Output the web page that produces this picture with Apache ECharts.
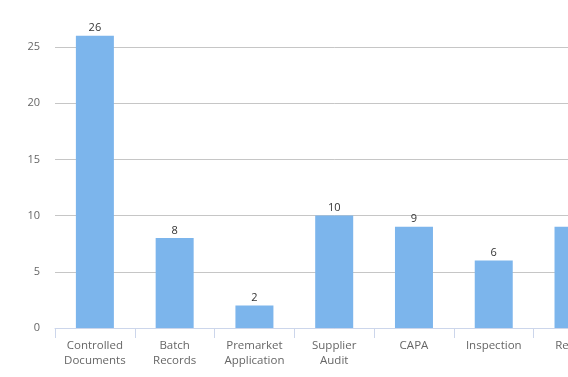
<!DOCTYPE html>
<html><head><meta charset="utf-8">
<script src="https://cdn.jsdelivr.net/npm/echarts@6/dist/echarts.min.js"></script>
<style>html,body{margin:0;padding:0;background:#fff;overflow:hidden;width:568px;height:377px;position:relative}#c{position:absolute;left:0;top:-20px;width:700px;height:397px}</style>
</head><body><div id="c"></div>
<script>
var categories = ["Controlled\nDocuments", "Batch\nRecords", "Premarket\nApplication", "Supplier\nAudit", "CAPA", "Inspection", "Recalls"];
var values = [26, 8, 2, 10, 9, 6, 9];
var yTicks = [0, 5, 10, 15, 20, 25, 30];

var chart = echarts.init(document.getElementById('c'));
chart.setOption({
  animation: false,
  grid: { left: 55, right: 86.6, top: 10.8, bottom: 49, containLabel: false },
  xAxis: {
    type: 'category', data: categories,
    axisLine: { lineStyle: { color: '#ccd6eb' } },
    axisTick: { show: true, length: 10, lineStyle: { color: '#ccd6eb' } },
    axisLabel: { color: '#666666', fontFamily: 'Open Sans', fontSize: 11.5, margin: 10, lineHeight: 15, interval: 0 }
  },
  yAxis: {
    type: 'value', min: yTicks[0], max: yTicks[yTicks.length - 1], interval: 5,
    axisLine: { show: false }, axisTick: { show: false },
    splitLine: { lineStyle: { color: '#c6c6c6' } },
    axisLabel: { color: '#666666', fontFamily: 'Open Sans', fontSize: 11, margin: 15 }
  },
  series: [{
    type: 'bar', data: values, barWidth: 38,
    itemStyle: { color: '#7cb5ec' },
    label: { show: true, position: 'top', distance: 2, color: '#333333', fontFamily: 'Open Sans', fontSize: 11 }
  }]
});
</script></body></html>
